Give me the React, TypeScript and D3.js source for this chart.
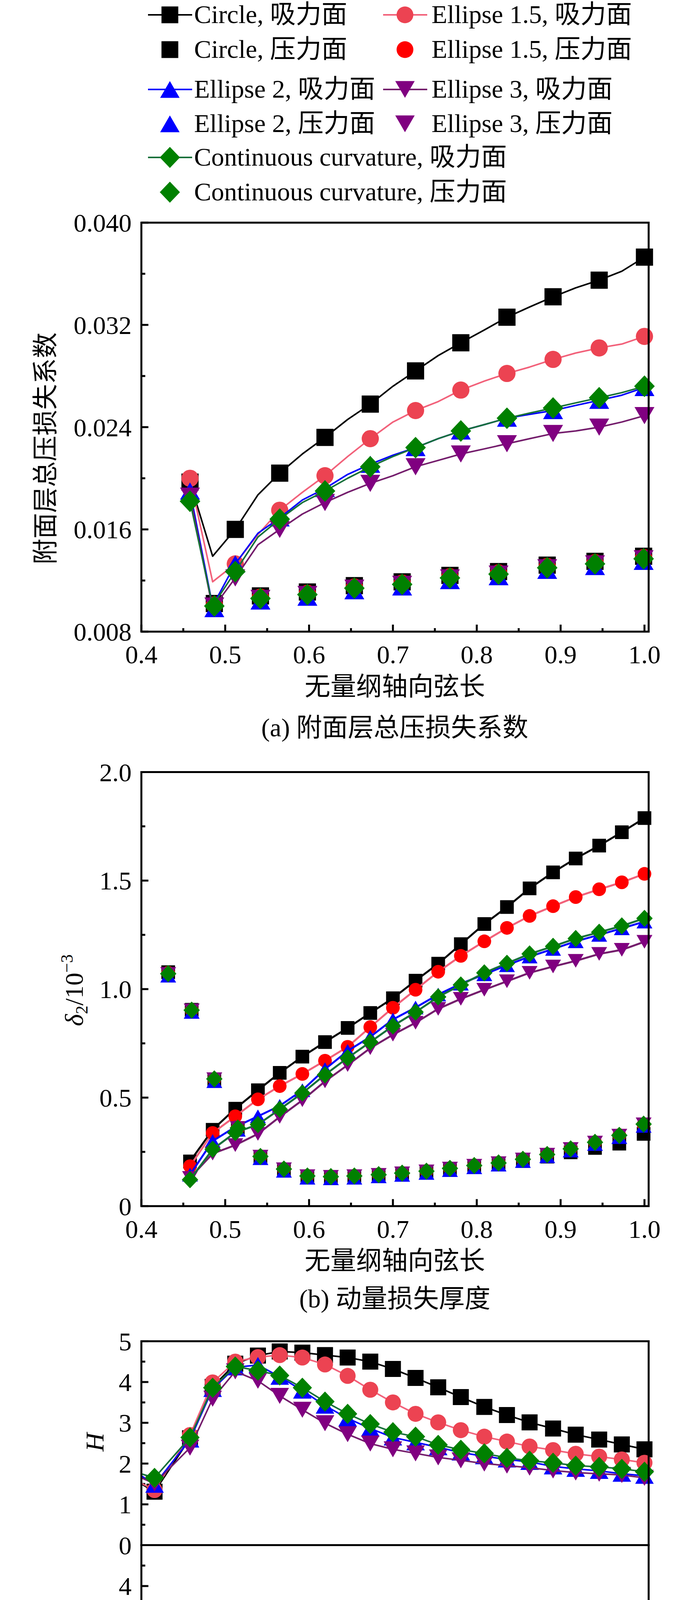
import * as d3 from 'd3'

const W = 1772
const H = 4759
const FONT = '"Liberation Serif", "Times New Roman", "Noto Sans CJK SC", serif'
const FS = 66

// x grids: dimensionless axial chord (suction side / pressure side stations)
const SS_X = [0.4157, 0.458, 0.485, 0.512, 0.539, 0.565, 0.592, 0.619, 0.646, 0.673, 0.7, 0.727, 0.754, 0.781, 0.809, 0.836, 0.863, 0.891, 0.918, 0.946, 0.973, 1.0]
const PS_X = [0.415, 0.432, 0.46, 0.487, 0.515, 0.542, 0.57, 0.598, 0.626, 0.654, 0.683, 0.711, 0.74, 0.768, 0.797, 0.826, 0.855, 0.884, 0.912, 0.941, 0.97, 0.999]
const C_LEAD_X = 0.39

const X_TICKS = [0.4, 0.5, 0.6, 0.7, 0.8, 0.9, 1.0]
const X_MINOR = [0.45, 0.55, 0.65, 0.75, 0.85, 0.95]

// (a) 附面层总压损失系数 — suction side, x = SS_X[1..]
const A_CIRCLE_SS = [0.0197, 0.0139, 0.016, 0.0187, 0.0204, 0.0219, 0.0232, 0.0246, 0.0258, 0.0272, 0.0284, 0.0296, 0.0306, 0.0316, 0.0326, 0.0334, 0.0342, 0.0349, 0.0355, 0.0362, 0.0373]
const A_E15_SS = [0.02, 0.0119, 0.0133, 0.0156, 0.0175, 0.0189, 0.0202, 0.0217, 0.0231, 0.0244, 0.0253, 0.026, 0.0269, 0.0276, 0.0282, 0.0287, 0.0293, 0.0298, 0.0302, 0.0305, 0.0311]
const A_E2_SS = [0.019, 0.01, 0.0133, 0.0157, 0.0169, 0.0183, 0.0192, 0.0203, 0.0211, 0.0218, 0.0224, 0.0231, 0.0237, 0.0242, 0.0247, 0.025, 0.0253, 0.0257, 0.0261, 0.0265, 0.0271]
const A_E3_SS = [0.0186, 0.0098, 0.0122, 0.0148, 0.016, 0.0172, 0.0181, 0.0189, 0.0196, 0.0202, 0.0209, 0.0214, 0.0219, 0.0223, 0.0227, 0.0231, 0.0235, 0.0237, 0.024, 0.0244, 0.0249]
const A_CC_SS = [0.0182, 0.01, 0.0127, 0.0154, 0.0168, 0.0181, 0.019, 0.02, 0.0209, 0.0217, 0.0224, 0.0231, 0.0237, 0.0242, 0.0247, 0.0251, 0.0255, 0.0259, 0.0263, 0.0267, 0.0272]
// pressure side, every other PS_X station from 0.487
const A_PS_X = [0.487, 0.542, 0.598, 0.654, 0.711, 0.768, 0.826, 0.884, 0.941, 0.999]
const A_CIRCLE_PS = [0.0102, 0.0108, 0.0111, 0.0116, 0.0119, 0.0124, 0.0127, 0.0132, 0.0135, 0.0139]
const A_E15_PS = [0.0101, 0.0107, 0.011, 0.0115, 0.0118, 0.0123, 0.0126, 0.0131, 0.0134, 0.0138]
const A_E2_PS = [0.0098, 0.0104, 0.0107, 0.0112, 0.0115, 0.012, 0.0123, 0.0128, 0.0131, 0.0135]
const A_E3_PS = [0.01, 0.0106, 0.0109, 0.0114, 0.0117, 0.0122, 0.0125, 0.013, 0.0133, 0.0137]
const A_CC_PS = [0.01, 0.0106, 0.0109, 0.0114, 0.0117, 0.0122, 0.0125, 0.013, 0.0133, 0.0137]

// (b) 动量损失厚度 δ2/10^-3 — suction x = SS_X[1..], pressure x = PS_X[1..]
const B_CIRCLE_SS = [0.206, 0.352, 0.449, 0.534, 0.614, 0.689, 0.756, 0.821, 0.89, 0.958, 1.039, 1.117, 1.207, 1.3, 1.378, 1.464, 1.538, 1.602, 1.661, 1.723, 1.788]
const B_E15_SS = [0.184, 0.337, 0.414, 0.492, 0.553, 0.609, 0.67, 0.734, 0.825, 0.914, 0.997, 1.08, 1.153, 1.22, 1.282, 1.337, 1.382, 1.424, 1.46, 1.492, 1.531]
const B_E2_SS = [0.145, 0.3, 0.365, 0.414, 0.462, 0.534, 0.631, 0.715, 0.78, 0.86, 0.915, 0.975, 1.025, 1.068, 1.11, 1.15, 1.185, 1.22, 1.25, 1.28, 1.311]
const B_E3_SS = [0.13, 0.242, 0.281, 0.333, 0.411, 0.488, 0.575, 0.65, 0.728, 0.79, 0.845, 0.909, 0.955, 0.997, 1.036, 1.075, 1.104, 1.13, 1.162, 1.181, 1.218]
const B_CC_SS = [0.122, 0.262, 0.339, 0.376, 0.446, 0.521, 0.605, 0.683, 0.756, 0.83, 0.894, 0.964, 1.019, 1.075, 1.119, 1.162, 1.197, 1.233, 1.262, 1.291, 1.326]
const B_CIRCLE_PS = [1.078, 0.905, 0.58, 0.36, 0.225, 0.168, 0.137, 0.134, 0.137, 0.143, 0.15, 0.158, 0.17, 0.182, 0.193, 0.208, 0.228, 0.248, 0.268, 0.288, 0.333]
const B_E15_PS = [1.075, 0.904, 0.586, 0.36, 0.23, 0.172, 0.14, 0.137, 0.14, 0.146, 0.153, 0.162, 0.175, 0.188, 0.2, 0.217, 0.239, 0.265, 0.295, 0.327, 0.376]
const B_E2_PS = [1.062, 0.895, 0.576, 0.352, 0.221, 0.163, 0.131, 0.128, 0.131, 0.137, 0.144, 0.153, 0.166, 0.179, 0.191, 0.208, 0.23, 0.256, 0.286, 0.318, 0.37]
const B_E3_PS = [1.07, 0.902, 0.585, 0.36, 0.228, 0.17, 0.138, 0.135, 0.138, 0.144, 0.151, 0.16, 0.173, 0.186, 0.198, 0.215, 0.237, 0.263, 0.293, 0.325, 0.377]
const B_CC_PS = [1.071, 0.903, 0.586, 0.36, 0.229, 0.171, 0.139, 0.136, 0.139, 0.145, 0.152, 0.161, 0.174, 0.187, 0.199, 0.216, 0.238, 0.264, 0.294, 0.326, 0.378]

// (c) 形状因子 H — suction x = [C_LEAD_X, ...SS_X], pressure x = PS_X
const C_CIRCLE_SS = [1.62, 1.31, 2.62, 3.88, 4.45, 4.65, 4.75, 4.72, 4.66, 4.6, 4.5, 4.32, 4.1, 3.87, 3.63, 3.39, 3.19, 3.01, 2.86, 2.71, 2.59, 2.47, 2.35]
const C_E15_SS = [1.62, 1.35, 2.7, 3.99, 4.5, 4.61, 4.66, 4.6, 4.43, 4.15, 3.81, 3.5, 3.22, 3.01, 2.82, 2.66, 2.54, 2.42, 2.33, 2.24, 2.17, 2.1, 2.02]
const C_E2_SS = [1.84, 1.48, 2.59, 3.83, 4.36, 4.42, 4.13, 3.79, 3.42, 3.11, 2.86, 2.64, 2.52, 2.4, 2.27, 2.18, 2.1, 2.04, 1.93, 1.87, 1.82, 1.75, 1.7]
const C_E3_SS = [1.74, 1.51, 2.39, 3.59, 4.26, 4.03, 3.66, 3.32, 2.99, 2.72, 2.49, 2.35, 2.25, 2.15, 2.08, 2.0, 1.95, 1.9, 1.83, 1.78, 1.75, 1.72, 1.65]
const C_CC_SS = [1.81, 1.65, 2.64, 3.86, 4.38, 4.28, 4.16, 3.86, 3.52, 3.22, 2.97, 2.77, 2.66, 2.46, 2.34, 2.25, 2.14, 2.07, 2.02, 1.95, 1.92, 1.87, 1.8]
const C_CIRCLE_PS = [2.2, 1.6, 1.27, 1.16, 1.16, 1.19, 1.27, 1.32, 1.355, 1.365, 1.38, 1.39, 1.4, 1.41, 1.41, 1.41, 1.41, 1.4, 1.39, 1.39, 1.38, 1.32]
const C_E15_PS = [2.3, 1.63, 1.3, 1.19, 1.19, 1.22, 1.3, 1.35, 1.385, 1.395, 1.41, 1.42, 1.43, 1.44, 1.44, 1.44, 1.44, 1.43, 1.42, 1.42, 1.41, 1.35]
const C_E2_PS = [2.15, 1.59, 1.26, 1.15, 1.15, 1.18, 1.26, 1.31, 1.345, 1.355, 1.37, 1.38, 1.39, 1.4, 1.4, 1.4, 1.4, 1.39, 1.38, 1.38, 1.37, 1.31]
const C_E3_PS = [2.24, 1.62, 1.29, 1.18, 1.18, 1.21, 1.29, 1.34, 1.375, 1.385, 1.4, 1.41, 1.42, 1.43, 1.43, 1.43, 1.43, 1.42, 1.41, 1.41, 1.4, 1.34]
const C_CC_PS = [2.22, 1.62, 1.29, 1.18, 1.18, 1.21, 1.29, 1.34, 1.375, 1.385, 1.4, 1.41, 1.42, 1.43, 1.43, 1.43, 1.43, 1.42, 1.41, 1.41, 1.4, 1.34]

// marker shapes, size = nominal height in px
const SHAPES: Record<string, d3.SymbolType> = {
  square: { draw(p, s) { const h = s / 2; p.moveTo(-h, -h); p.lineTo(h, -h); p.lineTo(h, h); p.lineTo(-h, h); p.closePath() } },
  circle: { draw(p, s) { const r = s / 2; p.moveTo(r, 0); p.arc(0, 0, r, 0, 2 * Math.PI); p.closePath() } },
  triUp: { draw(p, s) { const w = s * 0.58, h = s / 2; p.moveTo(0, -h); p.lineTo(w, h); p.lineTo(-w, h); p.closePath() } },
  triDown: { draw(p, s) { const w = s * 0.58, h = s / 2; p.moveTo(0, h); p.lineTo(w, -h); p.lineTo(-w, -h); p.closePath() } },
  diamond: { draw(p, s) { const w = s * 0.6, h = s * 0.63; p.moveTo(0, -h); p.lineTo(w, 0); p.lineTo(0, h); p.lineTo(-w, 0); p.closePath() } },
}

const STYLES = [
  { label: 'Circle', shape: 'square', fill: '#000000', pfill: '#000000', line: '#000000' },
  { label: 'Ellipse 1.5', shape: 'circle', fill: '#ec4352', pfill: '#ff0000', line: '#f2617a' },
  { label: 'Ellipse 2', shape: 'triUp', fill: '#0000ff', pfill: '#0000ff', line: '#0000ff' },
  { label: 'Ellipse 3', shape: 'triDown', fill: '#800080', pfill: '#800080', line: '#741d6c' },
  { label: 'Continuous curvature', shape: 'diamond', fill: '#008000', pfill: '#008000', line: '#17703a' },
]

const x = d3.scaleLinear().domain([0.4, 1.005]).range([362, 1661])
const LEFT = 362
const RIGHT = 1661

function sym(shape: string, size: number) {
  return d3.symbol().type(SHAPES[shape]).size(size)() || ''
}

type SeriesProps = {
  xs: number[]; ys: number[]; y: d3.ScaleLinear<number, number>
  shape: string; fill: string; line?: string; size: number; lw: number
  every?: number; skipFirst?: boolean; clip?: string
}

function Series({ xs, ys, y, shape, fill, line, size, lw, every = 1, skipFirst = false, clip }: SeriesProps) {
  const pts: [number, number][] = xs.map((xv, i) => [xv, ys[i]])
  const gen = d3.line<[number, number]>().x(d => x(d[0])).y(d => y(d[1]))
  const path = sym(shape, size)
  return (
    <g>
      {line && <path d={gen(pts) || ''} fill="none" stroke={line} strokeWidth={lw} strokeLinejoin="round" clipPath={clip ? `url(#${clip})` : undefined} />}
      {pts.map((p, i) => (i % every !== 0 || (skipFirst && i === 0)) ? null : (
        <path key={i} d={path} transform={`translate(${x(p[0])},${y(p[1])})`} fill={fill} />
      ))}
    </g>
  )
}

type AxisProps = {
  y: d3.ScaleLinear<number, number>; ticks: number[]; minor: number[]
  labels: number[]; fmt: (v: number) => string; xAxis: boolean
}

function Axes({ y, ticks, minor, labels, fmt, xAxis }: AxisProps) {
  const [b] = y.range()
  return (
    <g>
      {ticks.map(t => <line key={'t' + t} x1={LEFT} x2={LEFT + 18} y1={y(t)} y2={y(t)} stroke="#000" strokeWidth={5} />)}
      {minor.map(t => <line key={'m' + t} x1={LEFT} x2={LEFT + 10} y1={y(t)} y2={y(t)} stroke="#000" strokeWidth={5} />)}
      {labels.map(t => (
        <text key={'l' + t} x={337} y={y(t)} dy="0.35em" textAnchor="end" fontSize={FS}>{fmt(t)}</text>
      ))}
      {xAxis && X_TICKS.map(t => <line key={'xt' + t} x1={x(t)} x2={x(t)} y1={b} y2={b - 18} stroke="#000" strokeWidth={5} />)}
      {xAxis && X_MINOR.map(t => <line key={'xm' + t} x1={x(t)} x2={x(t)} y1={b} y2={b - 9} stroke="#000" strokeWidth={5} />)}
      {xAxis && X_TICKS.map(t => (
        <text key={'xl' + t} x={x(t)} y={b + 58} dy="0.35em" textAnchor="middle" fontSize={FS}>{t.toFixed(1)}</text>
      ))}
    </g>
  )
}

function Frame({ y }: { y: d3.ScaleLinear<number, number> }) {
  const [b, t] = y.range()
  return <rect x={LEFT} y={t} width={RIGHT - LEFT} height={b - t} fill="none" stroke="#000" strokeWidth={5} />
}

export default function App() {
  const yA = d3.scaleLinear().domain([0.008, 0.04]).range([1617, 570])
  const yB = d3.scaleLinear().domain([0, 2]).range([3087.7, 1976.5])
  const yC1 = d3.scaleLinear().domain([0, 5]).range([3955.5, 3433.6])
  const yC2 = d3.scaleLinear().domain([0, 5]).range([4479.3, 3955.5])

  const aSS = [A_CIRCLE_SS, A_E15_SS, A_E2_SS, A_E3_SS, A_CC_SS]
  const aPS = [A_CIRCLE_PS, A_E15_PS, A_E2_PS, A_E3_PS, A_CC_PS]
  const bSS = [B_CIRCLE_SS, B_E15_SS, B_E2_SS, B_E3_SS, B_CC_SS]
  const bPS = [B_CIRCLE_PS, B_E15_PS, B_E2_PS, B_E3_PS, B_CC_PS]
  const cSS = [C_CIRCLE_SS, C_E15_SS, C_E2_SS, C_E3_SS, C_CC_SS]
  const cPS = [C_CIRCLE_PS, C_E15_PS, C_E2_PS, C_E3_PS, C_CC_PS]

  const ssX = SS_X.slice(1)
  const cssX = [C_LEAD_X, ...SS_X]
  const bpsX = PS_X.slice(1)

  const legendRows = [38, 127, 229, 317, 403, 492]
  const legendItems = [
    { s: 0, side: 'ss', col: 0, row: 0 }, { s: 1, side: 'ss', col: 1, row: 0 },
    { s: 0, side: 'ps', col: 0, row: 1 }, { s: 1, side: 'ps', col: 1, row: 1 },
    { s: 2, side: 'ss', col: 0, row: 2 }, { s: 3, side: 'ss', col: 1, row: 2 },
    { s: 2, side: 'ps', col: 0, row: 3 }, { s: 3, side: 'ps', col: 1, row: 3 },
    { s: 4, side: 'ss', col: 0, row: 4 }, { s: 4, side: 'ps', col: 0, row: 5 },
  ]
  const colSym = [435, 1037]
  const colText = [497, 1105]

  return (
    <svg width={W} height={H} viewBox={`0 0 ${W} ${H}`} style={{ position: 'absolute', left: 0, top: 0, background: '#ffffff' }} fontFamily={FONT} fill="#000">
      <defs>
        <clipPath id="clipC1">
          <rect x={LEFT} y={3433.6} width={RIGHT - LEFT} height={3955.5 - 3433.6} />
        </clipPath>
      </defs>

      {/* legend */}
      {legendItems.map((it, i) => {
        const st = STYLES[it.s]
        const cy = legendRows[it.row]
        const cx = colSym[it.col]
        const ps = it.side === 'ps'
        return (
          <g key={i}>
            {!ps && <line x1={cx - 56} x2={cx + 57} y1={cy} y2={cy} stroke={st.line} strokeWidth={4} />}
            <path d={sym(st.shape, 43)} transform={`translate(${cx},${cy})`} fill={ps ? st.pfill : st.fill} />
            <text x={colText[it.col]} y={cy + 21} fontSize={FS}>{`${st.label}, ${ps ? '压力面' : '吸力面'}`}</text>
          </g>
        )
      })}

      {/* (a) */}
      <Axes y={yA} ticks={[0.008, 0.016, 0.024, 0.032, 0.04]} minor={[0.012, 0.02, 0.028, 0.036]}
        labels={[0.008, 0.016, 0.024, 0.032, 0.04]} fmt={v => v.toFixed(3)} xAxis />
      {STYLES.map((st, i) => (
        <g key={'a' + i}>
          <Series xs={ssX} ys={aSS[i]} y={yA} shape={st.shape} fill={st.fill} line={st.line} size={44} lw={4} every={2} />
          <Series xs={A_PS_X} ys={aPS[i]} y={yA} shape={st.shape} fill={st.pfill} size={44} lw={0} />
        </g>
      ))}
      <Frame y={yA} />
      <text transform="translate(139,1148) rotate(-90)" textAnchor="middle" fontSize={FS}>附面层总压损失系数</text>
      <text x={1011} y={1757} dy="0.35em" textAnchor="middle" fontSize={FS}>无量纲轴向弦长</text>
      <text x={1011} y={1862} dy="0.35em" textAnchor="middle" fontSize={FS}>(a) 附面层总压损失系数</text>

      {/* (b) */}
      <Axes y={yB} ticks={[0, 0.5, 1, 1.5, 2]} minor={[0.25, 0.75, 1.25, 1.75]}
        labels={[0, 0.5, 1, 1.5, 2]} fmt={v => (v === 0 ? '0' : v.toFixed(1))} xAxis />
      {STYLES.map((st, i) => (
        <g key={'b' + i}>
          <Series xs={ssX} ys={bSS[i]} y={yB} shape={st.shape} fill={i === 1 ? '#ff0000' : st.fill} line={st.line} size={35} lw={5} />
          <Series xs={bpsX} ys={bPS[i]} y={yB} shape={st.shape} fill={st.pfill} size={35} lw={0} />
        </g>
      ))}
      <Frame y={yB} />
      <text transform="translate(212,2535) rotate(-90)" textAnchor="middle" fontSize={FS}>
        <tspan fontStyle="italic">δ</tspan>
        <tspan fontSize={44} dy={12}>2</tspan>
        <tspan dy={-12}>/10</tspan>
        <tspan fontSize={44} dy={-26}>−3</tspan>
      </text>
      <text x={1011} y={3227} dy="0.35em" textAnchor="middle" fontSize={FS}>无量纲轴向弦长</text>
      <text x={1011} y={3324} dy="0.35em" textAnchor="middle" fontSize={FS}>(b) 动量损失厚度</text>

      {/* (c) upper: suction side */}
      <Axes y={yC1} ticks={[0, 1, 2, 3, 4, 5]} minor={[0.5, 1.5, 2.5, 3.5, 4.5]}
        labels={[0, 1, 2, 3, 4, 5]} fmt={v => String(v)} xAxis={false} />
      {STYLES.map((st, i) => (
        <Series key={'c1' + i} xs={cssX} ys={cSS[i]} y={yC1} shape={st.shape} fill={st.fill} line={st.line} size={41} lw={4} skipFirst clip="clipC1" />
      ))}
      <Frame y={yC1} />
      <text transform="translate(265,3692) rotate(-90)" textAnchor="middle" fontSize={FS} fontStyle="italic">H</text>

      {/* (c) lower: pressure side */}
      <Axes y={yC2} ticks={[0, 1, 2, 3, 4]} minor={[0.5, 1.5, 2.5, 3.5, 4.5]}
        labels={[0, 1, 2, 3, 4]} fmt={v => String(v)} xAxis />
      {STYLES.map((st, i) => (
        <Series key={'c2' + i} xs={PS_X} ys={cPS[i]} y={yC2} shape={st.shape} fill={st.pfill} size={41} lw={0} />
      ))}
      <Frame y={yC2} />
      <text transform="translate(265,4217) rotate(-90)" textAnchor="middle" fontSize={FS} fontStyle="italic">H</text>
      <text x={1011} y={4621} dy="0.35em" textAnchor="middle" fontSize={FS}>无量纲轴向弦长</text>
      <text x={1011} y={4716} dy="0.35em" textAnchor="middle" fontSize={FS}>(c) 形状因子</text>
    </svg>
  )
}
